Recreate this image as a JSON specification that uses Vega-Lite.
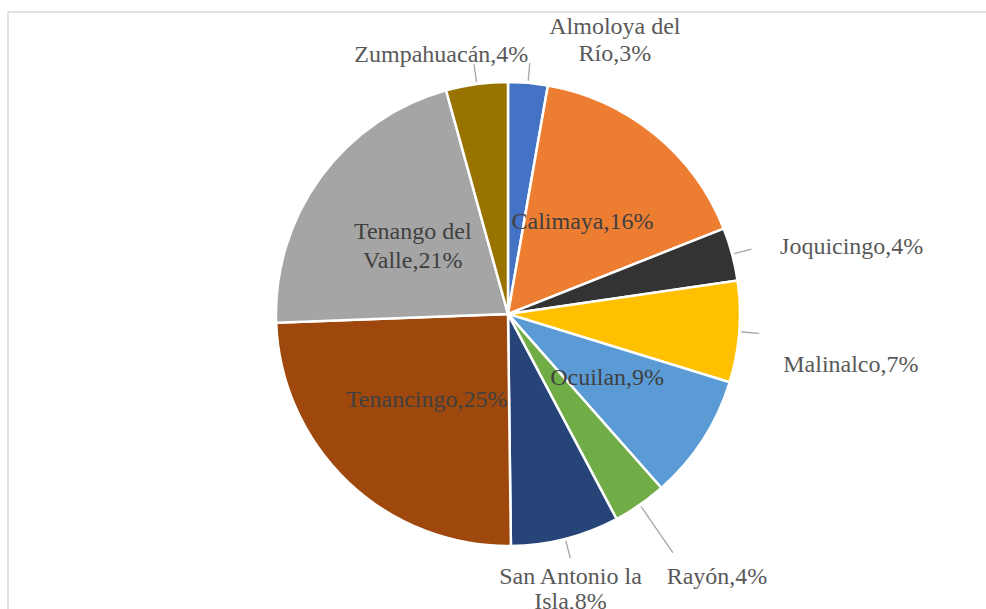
{
  "$schema": "https://vega.github.io/schema/vega-lite/v6.json",
  "width": 1000,
  "height": 604,
  "autosize": "none",
  "padding": {"left": 8, "top": 12, "right": -22, "bottom": -7},
  "background": "white",
  "config": {"view": {"stroke": null}},
  "datasets": {
    "towns": [
      {"name": "Almoloya del Río", "value": 2.75, "label": "Almoloya del\nRío,3%"},
      {"name": "Calimaya", "value": 16.25, "label": "Calimaya,16%"},
      {"name": "Joquicingo", "value": 3.7, "label": "Joquicingo,4%"},
      {"name": "Malinalco", "value": 7.05, "label": "Malinalco,7%"},
      {"name": "Ocuilan", "value": 8.75, "label": "Ocuilan,9%"},
      {"name": "Rayón", "value": 3.75, "label": "Rayón,4%"},
      {"name": "San Antonio la Isla", "value": 7.55, "label": "San Antonio la\nIsla,8%"},
      {"name": "Tenancingo", "value": 24.6, "label": "Tenancingo,25%"},
      {"name": "Tenango del Valle", "value": 21.3, "label": "Tenango del\nValle,21%"},
      {"name": "Zumpahuacán", "value": 4.3, "label": "Zumpahuacán,4%"}
    ],
    "frame": [{"id": 1}]
  },
  "layer": [
    {
      "data": {"name": "frame"},
      "mark": {"type": "rect", "fill": null, "fillOpacity": 0, "stroke": "#d9d9d9", "strokeWidth": 1.5}
    },
    {
      "data": {"name": "towns"},
      "encoding": {
        "theta": {"field": "value", "type": "quantitative", "stack": true}
      },
      "layer": [
        {
          "mark": {"type": "arc", "outerRadius": 232, "stroke": "white", "strokeWidth": 2.5},
          "encoding": {
            "color": {
              "field": "name",
              "type": "nominal",
              "legend": null,
              "scale": {
                "domain": ["Almoloya del Río", "Calimaya", "Joquicingo", "Malinalco", "Ocuilan", "Rayón", "San Antonio la Isla", "Tenancingo", "Tenango del Valle", "Zumpahuacán"],
                "range": ["#4472C4", "#ED7D31", "#333333", "#FFC000", "#5B9BD5", "#70AD47", "#264478", "#9E480E", "#A5A5A5", "#997300"]
              }
            }
          }
        },
        {
          "mark": {"type": "arc", "innerRadius": 234, "outerRadius": 252, "padAngle": 3, "fillOpacity": 0, "stroke": "#a6a6a6", "strokeWidth": 1.3},
          "encoding": {
            "detail": {"field": "name", "type": "nominal"},
            "strokeOpacity": {"condition": {"test": "indexof(['Almoloya del Río','Zumpahuacán','Joquicingo','Malinalco','San Antonio la Isla'], datum.name) >= 0", "value": 1}, "value": 0}
          }
        },
        {
          "mark": {"type": "arc", "innerRadius": 234, "outerRadius": 290, "padAngle": 3, "fillOpacity": 0, "stroke": "#a6a6a6", "strokeWidth": 1.3},
          "encoding": {
            "detail": {"field": "name", "type": "nominal"},
            "strokeOpacity": {"condition": {"test": "datum.name === 'Rayón'", "value": 1}, "value": 0}
          }
        },
        {
          "mark": {"type": "text", "radius": 118, "font": "Liberation Serif, Times New Roman, DejaVu Serif, serif", "fontSize": 24, "color": "#404040", "lineBreak": "\n", "lineHeight": 28, "align": "center", "baseline": "middle"},
          "encoding": {
            "detail": {"field": "name", "type": "nominal"},
            "text": {"condition": {"test": "indexof(['Calimaya','Ocuilan','Tenancingo'], datum.name) >= 0", "field": "label"}, "value": ""}
          }
        },
        {
          "mark": {"type": "text", "radius": 118, "dy": -12, "font": "Liberation Serif, Times New Roman, DejaVu Serif, serif", "fontSize": 24, "color": "#404040", "lineBreak": "\n", "lineHeight": 29, "align": "center", "baseline": "middle"},
          "encoding": {
            "detail": {"field": "name", "type": "nominal"},
            "text": {"condition": {"test": "datum.name === 'Tenango del Valle'", "field": "label"}, "value": ""}
          }
        },
        {
          "mark": {"type": "text", "radius": 265, "dx": 84, "dy": -23, "font": "Liberation Serif, Times New Roman, DejaVu Serif, serif", "fontSize": 24, "color": "#595959", "lineBreak": "\n", "lineHeight": 27, "align": "center", "baseline": "middle"},
          "encoding": {
            "detail": {"field": "name", "type": "nominal"},
            "text": {"condition": {"test": "datum.name === 'Almoloya del Río'", "field": "label"}, "value": ""}
          }
        },
        {
          "mark": {"type": "text", "radius": 265, "dx": -31, "dy": 4, "font": "Liberation Serif, Times New Roman, DejaVu Serif, serif", "fontSize": 24, "color": "#595959", "lineBreak": "\n", "lineHeight": 28, "align": "center", "baseline": "middle"},
          "encoding": {
            "detail": {"field": "name", "type": "nominal"},
            "text": {"condition": {"test": "datum.name === 'Zumpahuacán'", "field": "label"}, "value": ""}
          }
        },
        {
          "mark": {"type": "text", "radius": 265, "dx": 16, "dy": 1, "font": "Liberation Serif, Times New Roman, DejaVu Serif, serif", "fontSize": 24, "color": "#595959", "lineBreak": "\n", "lineHeight": 28, "align": "left", "baseline": "middle"},
          "encoding": {
            "detail": {"field": "name", "type": "nominal"},
            "text": {"condition": {"test": "datum.name === 'Joquicingo'", "field": "label"}, "value": ""}
          }
        },
        {
          "mark": {"type": "text", "radius": 265, "dx": 11, "dy": 31, "font": "Liberation Serif, Times New Roman, DejaVu Serif, serif", "fontSize": 24, "color": "#595959", "lineBreak": "\n", "lineHeight": 28, "align": "left", "baseline": "middle"},
          "encoding": {
            "detail": {"field": "name", "type": "nominal"},
            "text": {"condition": {"test": "datum.name === 'Malinalco'", "field": "label"}, "value": ""}
          }
        },
        {
          "mark": {"type": "text", "radius": 265, "dx": 8, "dy": 45, "font": "Liberation Serif, Times New Roman, DejaVu Serif, serif", "fontSize": 24, "color": "#595959", "lineBreak": "\n", "lineHeight": 28, "align": "left", "baseline": "middle"},
          "encoding": {
            "detail": {"field": "name", "type": "nominal"},
            "text": {"condition": {"test": "datum.name === 'Rayón'", "field": "label"}, "value": ""}
          }
        },
        {
          "mark": {"type": "text", "radius": 265, "dx": -3, "dy": 6, "font": "Liberation Serif, Times New Roman, DejaVu Serif, serif", "fontSize": 24, "color": "#595959", "lineBreak": "\n", "lineHeight": 25, "align": "center", "baseline": "middle"},
          "encoding": {
            "detail": {"field": "name", "type": "nominal"},
            "text": {"condition": {"test": "datum.name === 'San Antonio la Isla'", "field": "label"}, "value": ""}
          }
        }
      ]
    }
  ]
}
